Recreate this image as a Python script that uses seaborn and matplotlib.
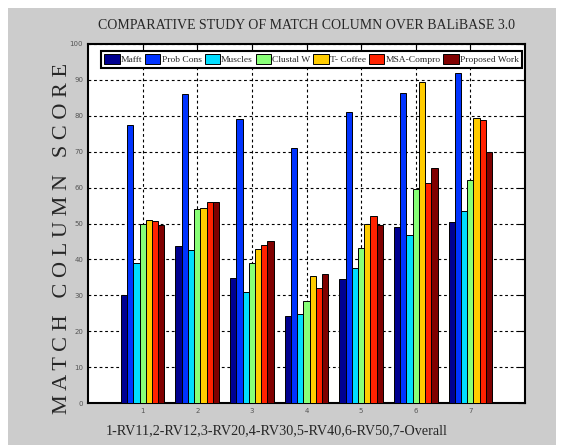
import numpy as np
import pandas as pd
import matplotlib
matplotlib.use('Agg')
import matplotlib.pyplot as plt
import seaborn as sns

groups = ['1', '2', '3', '4', '5', '6', '7']
methods = ['Mafft', 'Prob Cons', 'Muscles', 'Clustal W', 'T- Coffee', 'MSA-Compro', 'Proposed Work']

mafft = [30.0, 43.7, 34.8, 24.3, 34.5, 49.0, 50.3]
probcons = [77.4, 86.1, 79.0, 70.9, 81.1, 86.3, 92.0]
muscles = [38.9, 42.7, 30.9, 24.7, 37.6, 46.8, 53.5]
clustalw = [49.8, 53.9, 38.9, 28.4, 43.1, 59.6, 62.0]
tcoffee = [50.9, 54.3, 42.8, 35.5, 49.9, 89.4, 79.3]
msacompro = [50.6, 55.9, 44.1, 31.9, 52.1, 61.3, 78.8]
proposed = [49.6, 56.0, 45.0, 35.9, 49.6, 65.5, 70.0]

colors = ['#000090', '#0033FF', '#00DDFF', '#88FF77', '#FFCC00', '#FF2200', '#800000']

series = [mafft, probcons, muscles, clustalw, tcoffee, msacompro, proposed]
df = pd.DataFrame({
    'group': groups * len(methods),
    'method': [m for m in methods for _ in groups],
    'score': np.concatenate(series),
})

sns.set_style('white')
plt.rcParams['font.family'] = ['Liberation Serif', 'DejaVu Serif']

fig = plt.figure(figsize=(5.78, 4.45), dpi=100, facecolor='white')
# grey panel behind the plot, white strip at top and left/right edges
fig.patches.append(plt.Rectangle((8 / 578, 0), 548 / 578, 437 / 445,
                                 transform=fig.transFigure, facecolor='#cccccc',
                                 edgecolor='none', zorder=-10))
ax = fig.add_axes([88 / 578, 1 - 403 / 445, 437 / 578, 359 / 445])

sns.barplot(data=df, x='group', y='score', hue='method', palette=colors,
            width=0.8, edgecolor='black', linewidth=0.7, saturation=1,
            ax=ax, zorder=3)

ax.set_xlim(-1, 7)
ax.set_ylim(0, 100)
ax.set_yticks(np.arange(0, 101, 10))
ax.grid(True, color='black', linestyle=(0, (2.5, 2.5)), linewidth=0.8)
ax.set_axisbelow(True)
ax.tick_params(direction='in', top=True, right=True, length=5, width=0.8,
               labelsize=5, labelcolor='#555555', colors='black')
for lab in ax.get_xticklabels() + ax.get_yticklabels():
    lab.set_family('DejaVu Sans')
    lab.set_color('#555555')
for s in ax.spines.values():
    s.set_color('black')
    s.set_linewidth(1.5)

ax.set_title('COMPARATIVE STUDY OF MATCH COLUMN OVER BALiBASE 3.0',
             fontsize=10, pad=11)
ax.set_xlabel('1-RV11,2-RV12,3-RV20,4-RV30,5-RV40,6-RV50,7-Overall',
              fontsize=10.2, loc='left')
ax.xaxis.set_label_coords(0.04, -0.06)
ax.set_ylabel('M A T C H   C O L U M N   S C O R E', fontsize=16)
ax.yaxis.set_label_coords(-0.036, 0.457)

leg = ax.legend(loc='upper left', bbox_to_anchor=(0.03, 0.981), ncol=7,
                fontsize=6.8, handlelength=1.6, handleheight=1.3,
                handletextpad=0.15, columnspacing=0.3, borderpad=0.35,
                borderaxespad=0, fancybox=False, framealpha=1)
leg.get_frame().set_edgecolor('black')
leg.get_frame().set_linewidth(1.5)
leg.set_zorder(10)

fig.savefig('out.png', dpi=100, facecolor=fig.get_facecolor())
